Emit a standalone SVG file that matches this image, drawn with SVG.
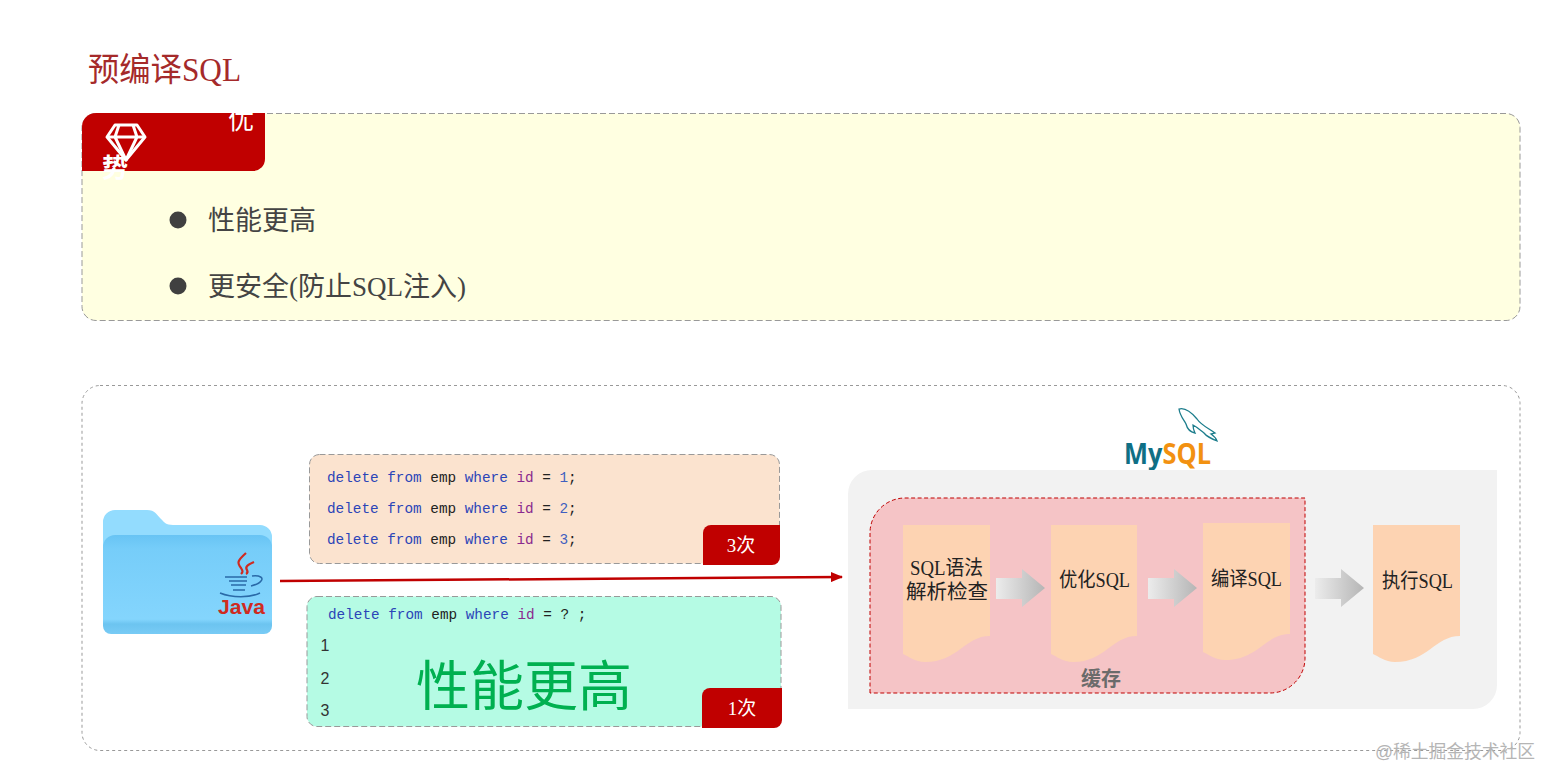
<svg xmlns="http://www.w3.org/2000/svg" width="1541" height="768" viewBox="0 0 1541 768">
<style>
text{font-family:"Liberation Serif","Noto Sans CJK SC",serif}
.code{font-family:"Liberation Mono","Noto Sans CJK SC",monospace;font-size:14.35px;fill:#222}
.kw{fill:#2b45b8}.id{fill:#8a2a8e}.num{fill:#3f5fc0}
.doc{fill:#fdd3b2}
.lbl{font-size:20px;fill:#222;text-anchor:middle}
.badge{fill:#c00000}
.bt{font-size:19px;fill:#fff;text-anchor:middle}
.li{font-size:27px;fill:#444}
.ln{font-family:"Liberation Sans","Noto Sans CJK SC",sans-serif;font-size:16px;fill:#333}
</style>
<defs>
<linearGradient id="ag" x1="0" x2="1" y1="0" y2="0"><stop offset="0" stop-color="#ececec"/><stop offset="1" stop-color="#b5b5b5"/></linearGradient>
<linearGradient id="fg" x1="0" x2="0" y1="0" y2="1"><stop offset="0" stop-color="#68c4f4"/><stop offset=".14" stop-color="#76cdf9"/><stop offset=".85" stop-color="#84d5fd"/><stop offset=".9" stop-color="#6cc4f0"/><stop offset="1" stop-color="#78cbf5"/></linearGradient>
<marker id="ah" markerUnits="userSpaceOnUse" markerWidth="12" markerHeight="10" refX="11" refY="5" orient="auto"><path d="M0 0L12 5L0 10z" fill="#c00000"/></marker>
<path id="arr" d="M0 -11H26V-20L49 -1L26 18V10H0z" fill="url(#ag)"/>
</defs>
<rect width="1541" height="768" fill="#fff"/>
<text id="title" x="88" y="81" font-size="33" fill="#a52a2a" textLength="153" lengthAdjust="spacingAndGlyphs">预编译SQL</text>

<g id="advantage">
<rect x="82" y="113.500" width="1438" height="207" rx="14" fill="#ffffe1" stroke="#999" stroke-dasharray="6 3"/>
<path d="M82 171V127a14 14 0 0 1 14-14H265V159a12 12 0 0 1-12 12z" fill="#c00000"/>
<g fill="none" stroke="#fff" stroke-width="3" stroke-linejoin="round"><path d="M115 125H137L145 137L126 160L107 137z"/><path d="M107 137H145M119 125L115 137L126 160L137 137L133 125"/></g>
<text x="228" y="129" font-size="26" fill="#fff">优</text>
<text x="102" y="177" font-size="26" font-weight="bold" fill="#fff">势</text>
<circle cx="178" cy="220" r="8.500" fill="#404040"/>
<text class="li" x="208" y="230" textLength="108" lengthAdjust="spacingAndGlyphs">性能更高</text>
<circle cx="178" cy="286" r="8.500" fill="#404040"/>
<text class="li" x="208" y="296" textLength="258" lengthAdjust="spacingAndGlyphs">更安全(防止SQL注入)</text>
</g>

<g id="panel"><rect x="82" y="385.500" width="1438" height="365" rx="18" fill="#fff" stroke="#999" stroke-dasharray="3 3"/></g>

<g id="java-folder">
<path d="M103 522a12 12 0 0 1 12-12h32c8 0 10 5 14 9 3 3 5 6 12 6h87a12 12 0 0 1 12 12v20H103z" fill="#93dcfe"/>
<path d="M103 547a12 12 0 0 1 12-12H260a12 12 0 0 1 12 12v79a8 8 0 0 1-8 8H111a8 8 0 0 1-8-8z" fill="url(#fg)"/>
<g fill="none" stroke="#d02a20" stroke-width="2.200"><path d="M246 553c-9 8-9 10-5 15 2 3 2 4 0 6"/><path d="M254 562c-7 3-9 5-7 8 1 2 1 3-1 4"/></g>
<g fill="none" stroke="#2a6aa8" stroke-width="1.500"><path d="M225 577h22M229 581h18M231 585h15M233 590h12M220 593c12 5 30 5 40 0M252 576c8-1 12 2 9 5-2 3-6 4-10 5"/></g>
<text x="218" y="614" style="font-family:'Liberation Sans',sans-serif" font-size="21" font-weight="bold" fill="#d02a20" textLength="47" lengthAdjust="spacingAndGlyphs">Java</text>
</g>

<g id="stmts-three">
<rect x="309.500" y="454.500" width="470" height="109" rx="10" fill="#fbe3cf" stroke="#999" stroke-dasharray="6 3"/>
<text class="code" x="327" y="482"><tspan class="kw">delete from</tspan> emp <tspan class="kw">where</tspan> <tspan class="id">id</tspan> = <tspan class="num">1</tspan>;</text>
<text class="code" x="327" y="513"><tspan class="kw">delete from</tspan> emp <tspan class="kw">where</tspan> <tspan class="id">id</tspan> = <tspan class="num">2</tspan>;</text>
<text class="code" x="327" y="544"><tspan class="kw">delete from</tspan> emp <tspan class="kw">where</tspan> <tspan class="id">id</tspan> = <tspan class="num">3</tspan>;</text>
<path class="badge" d="M703 565V533a8 8 0 0 1 8-8h69v32a8 8 0 0 1-8 8z"/>
<text class="bt" x="741" y="552">3次</text>
</g>

<g id="stmts-one">
<rect x="307" y="596.500" width="474" height="130" rx="10" fill="#b5fbe4" stroke="#999" stroke-dasharray="6 3"/>
<text class="code" x="328" y="619"><tspan class="kw">delete from</tspan> emp <tspan class="kw">where</tspan> <tspan class="id">id</tspan> = ? ;</text>
<text class="ln" x="320.500" y="651">1</text>
<text class="ln" x="320.500" y="684">2</text>
<text class="ln" x="320.500" y="716">3</text>
<text x="416" y="706" font-size="54" fill="#00b050" textLength="216" lengthAdjust="spacingAndGlyphs">性能更高</text>
<path class="badge" d="M702 728V696a8 8 0 0 1 8-8h72v32a8 8 0 0 1-8 8z"/>
<text class="bt" x="742" y="715">1次</text>
</g>

<g id="connectors">
<path d="M280 581L842 577" fill="none" stroke="#c00000" stroke-width="2.500" marker-end="url(#ah)"/>
</g>

<g id="mysql-logo">
<path d="M1179 409C1186 407 1192 413 1197 419C1201 425 1208 428 1215 433L1211 434C1214 436 1216 438 1217 441C1212 439 1207 437 1204 433C1200 430 1197 427 1193 425C1193 428 1194 431 1195 433C1190 432 1187 428 1186 424C1184 420 1180 416 1179 409z" fill="none" stroke="#1c7d8c" stroke-width="1.300"/>
<text x="1124" y="464" font-size="28" font-weight="700" style="font-family:'Open Sans','Liberation Sans',sans-serif" textLength="87" lengthAdjust="spacingAndGlyphs"><tspan fill="#0f6f85">My</tspan><tspan fill="#f29111">SQL</tspan></text>
</g>

<g id="mysql-panel"><path d="M848 709V494a24 24 0 0 1 24-24H1497V685a24 24 0 0 1-24 24z" fill="#f2f2f2"/></g>

<g id="cache">
<path d="M870 693V533a35 35 0 0 1 35-35H1305V658a35 35 0 0 1-35 35z" fill="#f5c4c6" stroke="#c00000" stroke-dasharray="4 2.500"/>
<text x="1101" y="686" font-size="20" font-weight="bold" fill="#6b6b6b" text-anchor="middle">缓存</text>
</g>

<g id="step-parse">
<path class="doc" d="M903 525H990V636C965 636 958 662 925 662C915 662 908 656 903 654z"/>
<text class="lbl" x="946.500" y="575" textLength="73" lengthAdjust="spacingAndGlyphs">SQL语法</text>
<text class="lbl" x="947" y="599" textLength="82" lengthAdjust="spacingAndGlyphs">解析检查</text>
</g>
<use href="#arr" x="996" y="589"/>
<g id="step-optimize">
<path class="doc" d="M1051 525H1137V636C1112 636 1105 662 1073 662C1063 662 1056 656 1051 654z"/>
<text class="lbl" x="1094.500" y="587" textLength="71" lengthAdjust="spacingAndGlyphs">优化SQL</text>
</g>
<use href="#arr" x="1148" y="589"/>
<g id="step-compile">
<path class="doc" d="M1203 523H1290V634C1265 634 1258 660 1225 660C1215 660 1208 654 1203 652z"/>
<text class="lbl" x="1246.500" y="586" textLength="71" lengthAdjust="spacingAndGlyphs">编译SQL</text>
</g>
<use href="#arr" x="1315" y="589"/>
<g id="step-exec">
<path class="doc" d="M1373 525H1460V636C1435 636 1428 662 1395 662C1385 662 1378 656 1373 654z"/>
<text class="lbl" x="1417.500" y="588" textLength="71" lengthAdjust="spacingAndGlyphs">执行SQL</text>
</g>

<text id="watermark" x="1375" y="758" font-size="18" fill="#b5b5b5" style="font-family:'Liberation Sans','Noto Sans CJK SC',sans-serif" textLength="160" lengthAdjust="spacingAndGlyphs">@稀土掘金技术社区</text>
</svg>
